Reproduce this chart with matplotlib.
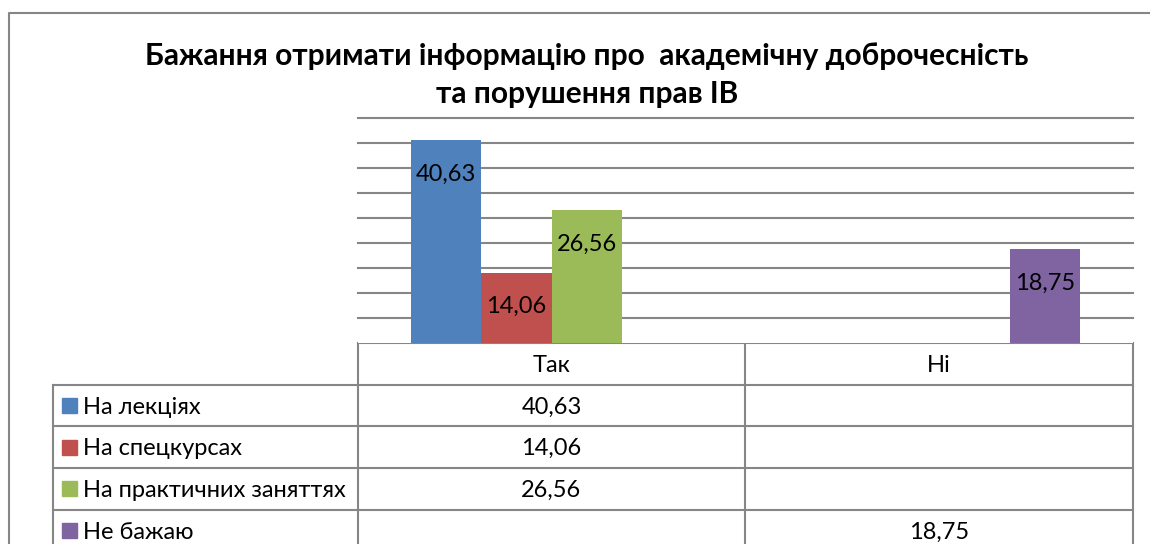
import matplotlib
matplotlib.use('Agg')
import matplotlib.pyplot as plt
import numpy as np

plt.rcParams['font.family'] = ['Lato', 'DejaVu Sans']

title = 'Бажання отримати інформацію про  академічну доброчесність\nта порушення прав ІВ'
categories = ['Так', 'Ні']
series_names = ['На лекціях', 'На спецкурсах', 'На практичних заняттях', 'Не бажаю']
# one value per category, None where the cell is empty
series_values = [
    [40.63, None],
    [14.06, None],
    [26.56, None],
    [None, 18.75],
]
colors = ['#4F81BD', '#C0504D', '#9BBB59', '#8064A2']

W, H = 1150, 544
fig = plt.figure(figsize=(W / 100, H / 100), dpi=100)

grey = '#868686'
fs = 17

# background axes in pixel coords for border, title and data table
bg = fig.add_axes([0, 0, 1, 1])
bg.set_xlim(0, W)
bg.set_ylim(H, 0)
bg.axis('off')

# chart border (cropped at right and bottom)
bg.plot([9, 9, W + 5], [H + 5, 13, 13], color=grey, lw=1.5, clip_on=False)

bg.text(587, 75, title, ha='center', va='center', fontsize=21.5,
        fontweight='bold', linespacing=1.45)

# plot area
x0, x1 = 358, 1133
y_top, y_bot = 118, 343
ax = fig.add_axes([x0 / W, (H - y_bot) / H, (x1 - x0) / W, (y_bot - y_top) / H])
ax.set_xlim(-0.5, 1.5)
ax.set_ylim(0, 45)
ax.set_yticks(np.arange(5, 46, 5))
ax.yaxis.grid(True, color=grey, lw=1.5)
for gl in ax.get_ygridlines():
    gl.set_clip_on(False)
ax.set_axisbelow(True)
ax.tick_params(left=False, bottom=False, labelleft=False, labelbottom=False)
for s in ax.spines.values():
    s.set_visible(False)

n = len(series_names)
bw = 1 / (n + 1.5)
xs = np.arange(len(categories))
for i, (name, vals, c) in enumerate(zip(series_names, series_values, colors)):
    for xi, v in zip(xs, vals):
        if v is None:
            continue
        xp = xi + (i - (n - 1) / 2) * bw
        ax.bar(xp, v, width=bw, color=c, zorder=3)
        ax.annotate(f'{v:.2f}'.replace('.', ','), (xp, v), xytext=(0, -24.5),
                    textcoords='offset points', ha='center', va='center',
                    fontsize=fs, zorder=4)

# data table
row_h = 41.7
col_x = [53, 358, 745, 1133]
rows_y = [y_bot + row_h * k for k in range(6)]
bg.plot([col_x[1], col_x[3]], [rows_y[0]] * 2, color=grey, lw=1.5)
for y in rows_y[1:]:
    bg.plot([col_x[0], col_x[3]], [y, y], color=grey, lw=1.5, clip_on=False)
bg.plot([col_x[0]] * 2, [rows_y[1], H + 5], color=grey, lw=1.5, clip_on=False)
for x in col_x[1:]:
    bg.plot([x, x], [rows_y[0], H + 5], color=grey, lw=1.5, clip_on=False)

col_c = [(col_x[1] + col_x[2]) / 2, (col_x[2] + col_x[3]) / 2]
for j, cat in enumerate(categories):
    bg.text(col_c[j], rows_y[0] + row_h / 2 + 1.5, cat, ha='center', va='center', fontsize=fs)

for i, (name, vals, c) in enumerate(zip(series_names, series_values, colors)):
    yc = rows_y[i + 1] + row_h / 2
    bg.add_patch(plt.Rectangle((62, yc - 7.5), 15, 15, color=c))
    bg.text(83, yc + 1.5, name, ha='left', va='center', fontsize=fs)
    for j, v in enumerate(vals):
        if v is not None:
            bg.text(col_c[j], yc + 1.5, f'{v:.2f}'.replace('.', ','), ha='center',
                    va='center', fontsize=fs)

fig.savefig('out.png', dpi=100)
